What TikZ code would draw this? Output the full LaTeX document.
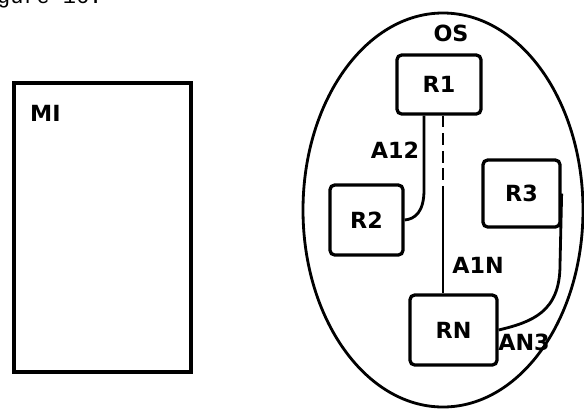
\documentclass[tikz,border=0pt]{standalone}
\usepackage{fontspec}
\setsansfont{DejaVu Sans}
\setmonofont{Liberation Mono}
\usetikzlibrary{positioning,calc,shapes.geometric}

\begin{document}
\begin{tikzpicture}[x=0.03cm,y=-0.03cm,font=\sffamily\bfseries\fontsize{19}{22}\selectfont]
  \tikzset{
    unit/.style={draw,line width=2.8pt,rounded corners=4pt,inner sep=0pt},
    link/.style={line width=2.4pt},
    tag/.style={inner sep=0pt},
  }
  \useasboundingbox (0,0) rectangle (584,408);
  % ---- caption fragment ----
  \node[tag,anchor=base west,font=\ttfamily\mdseries\fontsize{18.7}{22}\selectfont] (cap) at (-3,3) {gure 16.};
  % ---- MI ----
  \node[draw,line width=2.8pt,minimum width=177*0.03cm,minimum height=289*0.03cm] (mi) at (102.5,227.5) {};
  \node[tag,anchor=west] (milab) at (30,113) {MI};
  % ---- OS ----
  \node[draw,ellipse,line width=2.4pt,minimum width=280*0.03cm,minimum height=394*0.03cm] (os) at (443,210) {};
  \node[tag] (oslab) at (451,33) {OS};
  \draw[link] ($(mi.east)+(0,3.5)$) -- ($(mi.east)+(0,3.5)$ -| os.west);
  % ---- routers ----
  \node[unit,minimum width=84*0.03cm,minimum height=59*0.03cm] (r1) at (439,84.5) {R1};
  \node[unit,minimum width=73*0.03cm,minimum height=70*0.03cm] (r2) at (366.5,220) {R2};
  \node[unit,minimum width=77*0.03cm,minimum height=67*0.03cm] (r3) at (521.5,193.5) {R3};
  \node[unit,minimum width=87*0.03cm,minimum height=70*0.03cm] (rn) at (453.5,330) {RN};
  % ---- links ----
  \coordinate (split) at (443,197);
  \draw[link,dash pattern=on 10pt off 5pt] (r1.south -| split) -- (split);
  \draw[link] (split) -- (split |- rn.north);
  \coordinate (a12) at (424,190);
  \draw[link] (r1.south -| a12) -- (a12) .. controls (424,212) and (415,219) .. (r2.east);
  \coordinate (an3) at (560,265);
  \draw[link] (r3.east) -- (an3) .. controls (560,312) and (532,322) .. (rn.east);
  \node[tag] (l12) at (395,150) {A12};
  \node[tag] (l1n) at (478,265) {A1N};
  \node[tag] (ln3) at (524,342) {AN3};
\end{tikzpicture}
\end{document}
